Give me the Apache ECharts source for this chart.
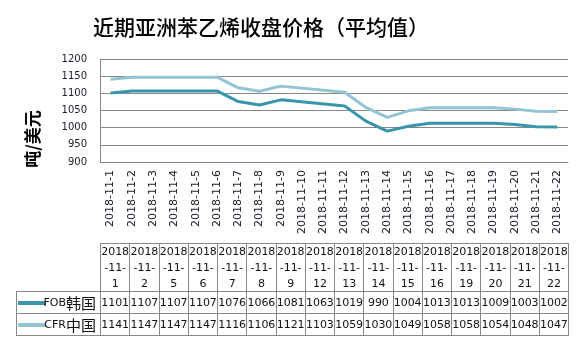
<!DOCTYPE html>
<html style="height: 351px;width: 584px;">
<head>
  <meta charset="UTF-8">
  <title>近期亚洲苯乙烯收盘价格</title>
  <script src="https://cdn.jsdelivr.net/npm/echarts@6/dist/echarts.min.js"></script>
</head>
<body style="margin: 0;background: #fff;">
  <div id="main" style="width: 584px;height: 351px;"></div>
<script>
// x轴刻度（日期轴，每天一个）
var axisDays = ['2018-11-1','2018-11-2','2018-11-3','2018-11-4','2018-11-5','2018-11-6','2018-11-7','2018-11-8',
                '2018-11-9','2018-11-10','2018-11-11','2018-11-12','2018-11-13','2018-11-14','2018-11-15',
                '2018-11-16','2018-11-17','2018-11-18','2018-11-19','2018-11-20','2018-11-21','2018-11-22'];
// 有报价的日期
var priceDays = ['2018-11-1','2018-11-2','2018-11-5','2018-11-6','2018-11-7','2018-11-8','2018-11-9','2018-11-12',
                 '2018-11-13','2018-11-14','2018-11-15','2018-11-16','2018-11-19','2018-11-20','2018-11-21','2018-11-22'];
var seriesNames = ['FOB韩国', 'CFR中国'];
var fobKorea = [1101,1107,1107,1107,1076,1066,1081,1063,1019,990,1004,1013,1013,1009,1003,1002];
var cfrChina = [1141,1147,1147,1147,1116,1106,1121,1103,1059,1030,1049,1058,1058,1054,1048,1047];
var lineColors = ['#3b95aa', '#93c4d6'];

var gridColor = '#878787';
var txtFont = '"DejaVu Sans", Verdana, sans-serif';
var cjkFont = '"Noto Sans CJK SC", sans-serif';

function toPairs(vals){
    var out = [];
    for(var i=0;i<priceDays.length;++i){
        out.push([priceDays[i], vals[i]]);
    }
    return out;
}

// 数据表（图表下方）
var tblLeft = 100, tblRight = 568, colW = (tblRight - tblLeft) / priceDays.length;
var hdTop = 243, hdBottom = 291, row1 = 313, row2 = 335, lblLeft = 16;
var graphics = [];

function hline(x1, x2, y){
    graphics.push({type: 'line', shape: {x1: x1, y1: y + 0.5, x2: x2, y2: y + 0.5},
                   style: {stroke: gridColor, lineWidth: 1}, silent: true});
}
function vline(x, y1, y2){
    graphics.push({type: 'line', shape: {x1: Math.round(x) + 0.5, y1: y1, x2: Math.round(x) + 0.5, y2: y2},
                   style: {stroke: gridColor, lineWidth: 1}, silent: true});
}

hline(tblLeft, tblRight, hdTop);
hline(lblLeft, tblRight, hdBottom);
hline(lblLeft, tblRight, row1);
hline(lblLeft, tblRight, row2);
vline(lblLeft, hdBottom, row2 + 1);
for(var k=0;k<=priceDays.length;++k){
    vline(tblLeft + k * colW, hdTop, row2 + 1);
}

var rowsY = [(hdBottom + row1) / 2 + 1, (row1 + row2) / 2 + 1];
var rowsVals = [fobKorea, cfrChina];
for(var c=0;c<priceDays.length;++c){
    var cx = tblLeft + (c + 0.5) * colW + 0.5;
    var p = priceDays[c].split('-');
    graphics.push({type: 'text', x: cx, y: (hdTop + hdBottom) / 2 + 1, silent: true,
        style: {text: p[0] + '\n-' + p[1] + '-\n' + p[2], align: 'center', verticalAlign: 'middle',
                lineHeight: 16, fill: '#111', font: '11px ' + txtFont}});
    for(var r=0;r<2;++r){
        graphics.push({type: 'text', x: cx, y: rowsY[r], silent: true,
            style: {text: String(rowsVals[r][c]), align: 'center', verticalAlign: 'middle',
                    fill: '#111', font: '11px ' + txtFont}});
    }
}
// 图例键 + 系列名
for(var r=0;r<2;++r){
    graphics.push({type: 'line', shape: {x1: 18, y1: rowsY[r], x2: 46, y2: rowsY[r]},
                   style: {stroke: lineColors[r], lineWidth: 4}, silent: true});
    var nm = seriesNames[r];
    graphics.push({type: 'text', x: 96, y: rowsY[r], silent: true,
        style: {text: '{a|' + nm.slice(0, 3) + '}{b|' + nm.slice(3) + '}', align: 'right', verticalAlign: 'middle',
                rich: {a: {fontSize: 11, fontFamily: txtFont, fill: '#111'},
                       b: {fontSize: 15, fontFamily: cjkFont, fill: '#111'}}}});
}
// y轴标题
graphics.push({type: 'text', x: 33, y: 139, rotation: Math.PI / 2, silent: true,
    style: {text: '吨/美元', align: 'center', verticalAlign: 'middle', fill: '#000',
            font: 'bold 17px ' + cjkFont}});

var option = {
    animation: false,
    title: {
        text: '近期亚洲苯乙烯收盘价格（平均值）',
        left: 88,
        top: 12,
        textStyle: {fontFamily: cjkFont, fontSize: 21, fontWeight: 500, color: '#000'}
    },
    grid: {left: 100, right: 16, top: 59, height: 103},
    xAxis: {
        type: 'category',
        data: axisDays,
        boundaryGap: true,
        axisLine: {lineStyle: {color: gridColor}},
        axisTick: {show: false},
        axisLabel: {rotate: 90, margin: 8, fontSize: 11, fontFamily: txtFont, color: '#1a1a2a', interval: 0}
    },
    yAxis: {
        type: 'value',
        min: 900,
        max: 1200,
        interval: 50,
        axisLine: {show: true, lineStyle: {color: gridColor}},
        axisTick: {show: false},
        axisLabel: {margin: 13, fontSize: 10, fontFamily: txtFont, color: '#1a1a2a',
                    formatter: function(v){ return String(v); }},
        splitLine: {lineStyle: {color: gridColor, width: 1}}
    },
    series: [
        {name: seriesNames[0], type: 'line', data: toPairs(fobKorea), showSymbol: false,
         lineStyle: {color: lineColors[0], width: 3}, itemStyle: {color: lineColors[0]}},
        {name: seriesNames[1], type: 'line', data: toPairs(cfrChina), showSymbol: false,
         lineStyle: {color: lineColors[1], width: 3}, itemStyle: {color: lineColors[1]}}
    ],
    graphic: graphics
};

var chart = echarts.init(document.getElementById('main'));
chart.setOption(option);
</script>
</body>
</html>
